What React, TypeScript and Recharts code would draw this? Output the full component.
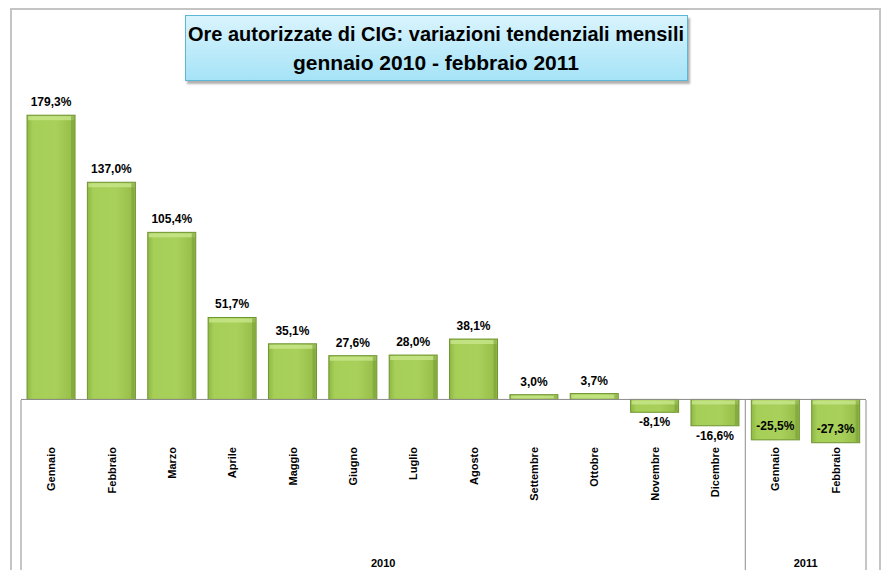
import { BarChart, Bar, XAxis, YAxis, ReferenceLine, LabelList } from 'recharts';

const months = [
  'Gennaio', 'Febbraio', 'Marzo', 'Aprile', 'Maggio', 'Giugno', 'Luglio',
  'Agosto', 'Settembre', 'Ottobre', 'Novembre', 'Dicembre', 'Gennaio', 'Febbraio',
];
const years = ['2010', '2010', '2010', '2010', '2010', '2010', '2010', '2010', '2010', '2010', '2010', '2010', '2011', '2011'];
const variations = [179.3, 137.0, 105.4, 51.7, 35.1, 27.6, 28.0, 38.1, 3.0, 3.7, -8.1, -16.6, -25.5, -27.3];

const data = months.map((m, i) => ({ key: `${m}-${years[i]}`, month: m, year: years[i], value: variations[i] }));

const W = 883;
const H = 570;
const MARGIN = { top: 80, right: 17, left: 21, bottom: 0 };
const BAND = (W - MARGIN.left - MARGIN.right) / months.length;
const AXIS_H = 123;
const FONT = '"Liberation Sans", Arial, sans-serif';

const fmt = (v: number) => v.toFixed(1).replace('.', ',') + '%';

const BarShape = (props: any) => {
  const { x, y, width, height } = props;
  const top = Math.min(y, y + height);
  const h = Math.abs(height);
  return (
    <g>
      <rect x={x} y={top} width={width} height={h} fill="url(#barGrad)" stroke="#6f9430" strokeWidth={1} />
      <rect x={x + 1} y={top + 1} width={width - 2} height={Math.min(4, Math.max(h - 2, 0))} fill="#c9e68c" opacity={0.8} />
      <rect x={x + width - 4} y={top + 1} width={3} height={Math.max(h - 2, 0)} fill="#7c9f38" opacity={0.6} />
    </g>
  );
};

const ValueLabel = (props: any) => {
  const { x, y, width, height, value } = props;
  const top = Math.min(y, y + height);
  const bottom = Math.max(y, y + height);
  const cx = x + width / 2;
  let ty: number;
  if (value >= 0) ty = top - 9;
  else if (value > -20) ty = bottom + 14;
  else ty = bottom - 10;
  return (
    <text x={cx} y={ty} textAnchor="middle" fontFamily={FONT} fontWeight="bold" fontSize={12} fill="#000">
      {fmt(value)}
    </text>
  );
};

const MonthTick = (props: any) => {
  const { x, y, index, payload } = props;
  const d = data.find((r) => r.key === payload.value) || data[index];
  const zeroY = y - 47;
  const lines: number[] = [];
  if (index === 0) lines.push(x - BAND / 2);
  if (index < data.length - 1 && data[index + 1].year !== d.year) lines.push(x + BAND / 2);
  if (index === data.length - 1) lines.push(x + BAND / 2);
  // year label at the centre of its group
  let yearLabel = null;
  const isLastOfGroup = index === data.length - 1 || data[index + 1].year !== d.year;
  if (isLastOfGroup) {
    let first = index;
    while (first > 0 && data[first - 1].year === d.year) first--;
    const cx = x - ((index - first) * BAND) / 2;
    yearLabel = (
      <text x={cx} y={y + 120} textAnchor="middle" fontFamily={FONT} fontWeight="bold" fontSize={11} fill="#000">
        {d.year}
      </text>
    );
  }
  return (
    <g>
      {lines.map((lx) => (
        <line key={lx} x1={lx} x2={lx} y1={zeroY} y2={H} stroke="#8c8c8c" strokeWidth={1} />
      ))}
      <text
        x={x + 4}
        y={y}
        transform={`rotate(-90 ${x + 4} ${y})`}
        textAnchor="end"
        fontFamily={FONT}
        fontWeight="bold"
        fontSize={11}
        fill="#000"
      >
        {d.month}
      </text>
      {yearLabel}
    </g>
  );
};

export default function App() {
  return (
    <div style={{ position: 'absolute', left: 0, top: 0, width: W, height: H, overflow: 'hidden', background: '#fff' }}>
      <div
        style={{
          position: 'absolute', left: 10, top: 8, width: 871, height: 620,
          border: '2px solid #c4c4c4', boxSizing: 'border-box',
        }}
      />
      <BarChart width={W} height={H} data={data} margin={MARGIN} barCategoryGap="10%">
        <defs>
          <linearGradient id="barGrad" x1="0" y1="0" x2="1" y2="0">
            <stop offset="0%" stopColor="#8fb844" />
            <stop offset="12%" stopColor="#a6cf58" />
            <stop offset="60%" stopColor="#a8d05a" />
            <stop offset="100%" stopColor="#93bb47" />
          </linearGradient>
        </defs>
        <XAxis
          dataKey="key"
          interval={0}
          height={AXIS_H}
          axisLine={false}
          tickLine={false}
          tickSize={0}
          tickMargin={0}
          tick={<MonthTick />}
        />
        <YAxis hide domain={[-30, 201.5]} allowDataOverflow />
        <ReferenceLine y={0} stroke="#8c8c8c" strokeWidth={1} />
        <Bar dataKey="value" shape={<BarShape />} isAnimationActive={false}>
          <LabelList dataKey="value" content={<ValueLabel />} />
        </Bar>
      </BarChart>
      <div
        style={{
          position: 'absolute', left: 185, top: 15, width: 503, height: 66, boxSizing: 'border-box',
          background: 'linear-gradient(#d9f4fd, #a6e3f7)', border: '1px solid #5db6d4',
          boxShadow: '2px 3px 2px #b0b0b0',
        }}
      />
      <svg width={W} height={100} style={{ position: 'absolute', left: 0, top: 0, overflow: 'visible' }}>
        <text x={436} y={41} textAnchor="middle" fontFamily={FONT} fontWeight="bold" fontSize={21}
          textLength={496} lengthAdjust="spacingAndGlyphs" fill="#000">
          Ore autorizzate di CIG: variazioni tendenziali mensili
        </text>
        <text x={436} y={70} textAnchor="middle" fontFamily={FONT} fontWeight="bold" fontSize={21}
          textLength={286} lengthAdjust="spacingAndGlyphs" fill="#000">
          gennaio 2010 - febbraio 2011
        </text>
      </svg>
    </div>
  );
}
